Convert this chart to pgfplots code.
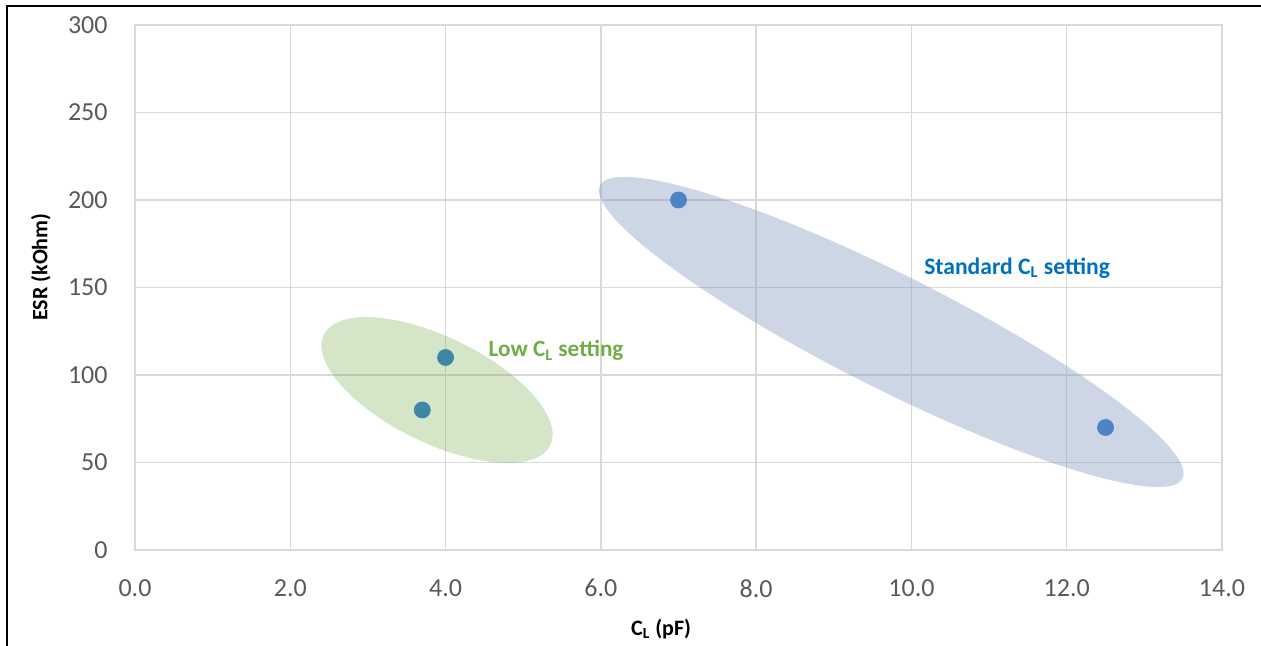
\documentclass[border=0pt]{standalone}
\usepackage{fontspec}
\setmainfont{Carlito}
\usepackage{pgfplots}
\pgfplotsset{compat=1.18}
\usetikzlibrary{shapes.geometric}
\definecolor{gridgray}{HTML}{D9D9D9}
\definecolor{ticktext}{HTML}{595959}
\definecolor{markblue}{RGB}{40,120,205}
\definecolor{ellblue}{RGB}{130,152,188}
\definecolor{ellgreen}{RGB}{112,173,71}
\definecolor{txtblue}{HTML}{0070C0}
\definecolor{txtgreen}{HTML}{70AD47}
\begin{document}
\begin{tikzpicture}
\useasboundingbox (-67.5pt,-48pt) rectangle (563pt,275pt);
\begin{axis}[
  at={(0,0)}, anchor=south west,
  scale only axis, width=543.5pt, height=262.5pt,
  xmin=0, xmax=14, ymin=0, ymax=300,
  xtick={0,2,...,14}, ytick={0,50,...,300},
  grid=major, major grid style={gridgray, line width=0.75pt},
  axis line style={gridgray, line width=0.75pt},
  major tick length=0pt,
  tick label style={font=\fontsize{13}{15}\selectfont, text=ticktext, inner sep=0pt},
  /pgf/number format/assume math mode=true,
  x tick label style={/pgf/number format/fixed, /pgf/number format/fixed zerofill, /pgf/number format/precision=1},
  xticklabel shift=14.5pt, yticklabel shift=13.5pt,
  xlabel={C\textsubscript{L} (pF)}, ylabel={ESR (kOhm)},
  label style={font=\bfseries\fontsize{11}{13}\selectfont},
  xlabel style={at={(axis description cs:0.484,-0.1505)}, anchor=center},
  ylabel style={at={(axis description cs:-0.0865,0.539)}, anchor=center},
]
\addplot[only marks, mark=*, mark size=4pt, color=markblue] coordinates {(3.7,80) (4.0,110) (7.0,200) (12.5,70)};
\coordinate (eb) at (axis cs:9.74,124.6);
\coordinate (eg) at (axis cs:3.89,91.4);
\coordinate (tb) at (axis cs:10.16,157.6);
\coordinate (tg) at (axis cs:4.55,110.4);
\end{axis}
\node[ellipse, draw=none, fill=ellblue, fill opacity=0.4, minimum width=326pt, minimum height=57pt, inner sep=0pt, rotate=-26.7] at (eb) {};
\node[ellipse, draw=none, fill=ellgreen, fill opacity=0.3, minimum width=126pt, minimum height=53pt, inner sep=0pt, rotate=-26] at (eg) {};
\node[anchor=base west, inner sep=0pt, text=txtblue, font=\bfseries\fontsize{11.8}{14}\selectfont] at (tb) {Standard C\textsubscript{L} setting};
\node[anchor=base west, inner sep=0pt, text=txtgreen, font=\bfseries\fontsize{11.6}{14}\selectfont] at (tg) {Low C\textsubscript{L} setting};
\draw[line width=1pt, black] (-64pt,-48pt) -- (-64pt,272pt) -- (563pt,272pt);
\end{tikzpicture}
\end{document}
